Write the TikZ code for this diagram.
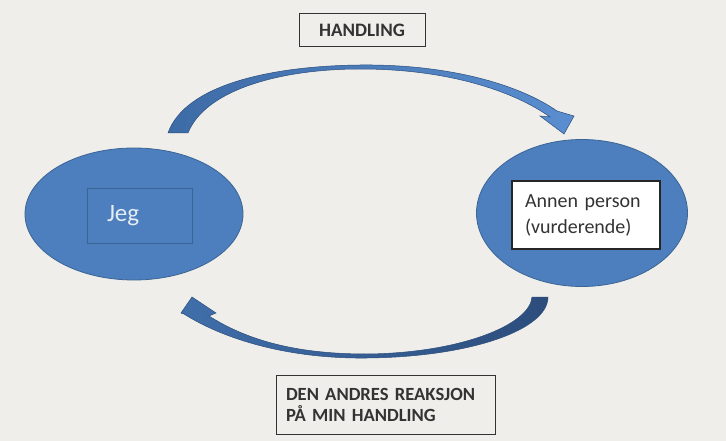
\documentclass[tikz,border=0pt]{standalone}
\usepackage{fontspec}
\setmainfont{Carlito}
\usetikzlibrary{shapes.geometric}
\definecolor{bg}{HTML}{EFEEEA}
\definecolor{ellfill}{HTML}{4D7FBE}
\definecolor{ellline}{HTML}{3A6494}
\definecolor{arrdark}{HTML}{2C4D7C}
\definecolor{arrmid}{HTML}{3D6BA6}
\definecolor{arrlight}{HTML}{5A8ED0}
\definecolor{txtdark}{HTML}{333333}
\definecolor{jegtxt}{HTML}{E4ECF6}
\tikzset{
  bubble/.style={ellipse, fill=ellfill, draw=ellline, line width=0.8pt, inner sep=0pt},
  labelbox/.style={rectangle, draw=txtdark, line width=1pt, fill=bg, inner sep=0pt,
    text=txtdark, font=\bfseries\fontsize{18.6}{21}\selectfont},
  arrowbody/.style={draw=arrdark, line width=0.5pt}
}
\begin{document}
\begin{tikzpicture}[x=1pt,y=-1pt]
\fill[bg] (0,0) rectangle (726,441);
\useasboundingbox (0,0) rectangle (726,441);
% ellipses
\node[bubble, minimum width=218pt, minimum height=132pt] (jeg) at (134,214) {};
\node[bubble, minimum width=211pt, minimum height=147pt] (annen) at (582,213) {};
% inner boxes
\node[rectangle, draw=ellline, line width=0.8pt, fill=ellfill, minimum width=105pt, minimum height=55pt,
  text width=65pt, align=left, inner sep=0pt, text=jegtxt, font=\fontsize{25}{28}\selectfont]
  (jegbox) at (139.5,215.5) {Jeg};
\node[rectangle, draw=black!85, line width=1.2pt, fill=white, minimum width=148pt, minimum height=68pt,
  text width=122pt, align=left, inner sep=0pt, text=txtdark, font=\fontsize{20}{26}\selectfont]
  (annenbox) at (586,215) {Annen person\\(vurderende)};
% label boxes
\node[labelbox, minimum width=126pt, minimum height=33pt, font=\bfseries\fontsize{19}{21}\selectfont]
  (handling) at (362,30.5) {HANDLING};
\node[labelbox, minimum width=219pt, minimum height=59pt, text width=199pt, align=left]
  (reaksjon) at (385.5,404.5) {DEN ANDRES REAKSJON\\PÅ MIN HANDLING};
% top curved arrow (HANDLING)
\shade[arrowbody, left color=arrmid, middle color=arrdark, right color=arrlight]
  (168,133) .. controls (185,85) and (270,66) .. (360,65)
  .. controls (450,64) and (520,85) .. (557,111)
  -- (574,116) -- (564,134) -- (540,116) -- (550,117)
  .. controls (515,92) and (450,69) .. (360,69)
  .. controls (280,69) and (205,90) .. (188,133) -- cycle;
% bottom curved arrow (reaksjon)
\shade[arrowbody, left color=arrmid!90!arrlight, right color=arrdark]
  (548,297) .. controls (548,330) and (470,357) .. (367,358)
  .. controls (290,359) and (225,340) .. (184,314)
  -- (181,313) -- (192,297) -- (216,313) -- (209,316)
  .. controls (250,342) and (300,354) .. (367,354)
  .. controls (460,353) and (530,325) .. (532,297) -- cycle;
\end{tikzpicture}
\end{document}
